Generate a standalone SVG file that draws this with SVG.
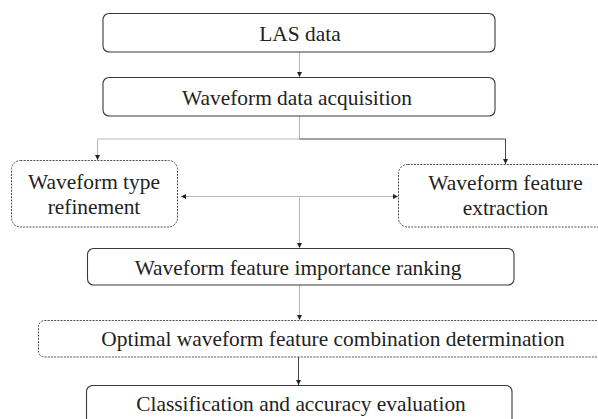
<svg xmlns="http://www.w3.org/2000/svg" width="598" height="419" viewBox="0 0 598 419">
<style>
  .box{fill:#fff;stroke:#3a3a3a;stroke-width:1.1}
  .dbox{fill:#fff;stroke:#3a3a3a;stroke-width:0.9;stroke-dasharray:2 1.2}
  .t{font-family:"Liberation Serif","Times New Roman",serif;font-size:21.4px;fill:#222;text-anchor:middle}
  .c{fill:none;stroke:#b8b8b8;stroke-width:1}
  .cd{fill:none;stroke:#444;stroke-width:1}
</style>
<defs>
  <marker id="ah" markerWidth="6" markerHeight="6" refX="5" refY="3" orient="auto" markerUnits="userSpaceOnUse">
    <path d="M0,0.5 L5,3 L0,5.5 Z" fill="#222"/>
  </marker>
</defs>
<rect width="598" height="419" fill="#fff"/>
<g id="connectors">
  <line class="c" x1="299.5" y1="52" x2="299.5" y2="77" marker-end="url(#ah)"/>
  <polyline class="c" points="299.5,116 299.5,139 97.5,139 97.5,160" marker-end="url(#ah)"/>
  <polyline class="cd" points="299.5,139 505.5,139 505.5,164" marker-end="url(#ah)"/>
  <line class="c" x1="299.5" y1="196.5" x2="181" y2="196.5" marker-end="url(#ah)"/>
  <line class="c" x1="299.5" y1="196.5" x2="398" y2="196.5" marker-end="url(#ah)"/>
  <line class="c" x1="299.5" y1="196.5" x2="299.5" y2="248" marker-end="url(#ah)"/>
  <line class="c" x1="299.5" y1="285" x2="299.5" y2="320" marker-end="url(#ah)"/>
  <line class="cd" x1="298.5" y1="357" x2="298.5" y2="385" marker-end="url(#ah)"/>
</g>
<g id="n1"><rect class="box" x="103" y="13.5" width="392" height="38.5" rx="6"/><text class="t" x="300" y="41">LAS data</text></g>
<g id="n2"><rect class="box" x="103" y="77.5" width="392" height="38.5" rx="6"/><text class="t" x="297" y="105">Waveform data acquisition</text></g>
<g id="n3"><rect class="dbox" x="11.5" y="160.5" width="166" height="66.5" rx="9"/><text class="t" x="94" y="189">Waveform type</text><text class="t" x="94" y="213.5">refinement</text></g>
<g id="n4"><rect class="dbox" x="398.5" y="164.5" width="215" height="62.5" rx="9"/><text class="t" x="505.5" y="190">Waveform feature</text><text class="t" x="505.5" y="214.5">extraction</text></g>
<g id="n5"><rect class="box" x="87.5" y="248.5" width="426.5" height="36.5" rx="6"/><text class="t" x="298" y="274.5">Waveform feature importance ranking</text></g>
<g id="n6"><rect class="dbox" x="38.5" y="320.5" width="590" height="36.5" rx="6"/><text class="t" x="333" y="345.5">Optimal waveform feature combination determination</text></g>
<g id="n7"><rect class="box" x="86.5" y="385.5" width="425.5" height="45" rx="6"/><text class="t" x="301" y="411">Classification and accuracy evaluation</text></g>
</svg>
